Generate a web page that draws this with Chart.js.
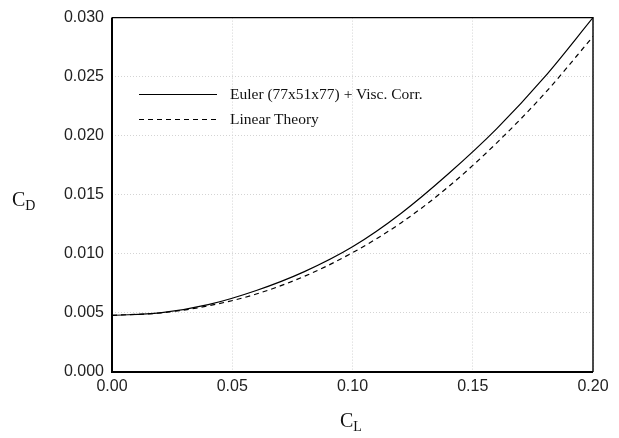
<!DOCTYPE html>
<html>
<head>
<meta charset="utf-8">
<script src="https://cdn.jsdelivr.net/npm/chart.js@4.4.1/dist/chart.umd.min.js"></script>
<style>
  html, body { margin: 0; padding: 0; background: #fff; }
  #wrap { position: relative; width: 619px; height: 438px; }
  .axis-title { position: absolute; font-family: "Liberation Serif", "Times New Roman", serif; font-size: 20px; line-height: 1; color: #111; white-space: nowrap; }
  .axis-title sub { font-size: 14px; vertical-align: -4px; line-height: 1; }
  .leg-row { position: absolute; left: 139px; height: 20px; display: flex; align-items: center; font-family: "Liberation Serif", "Times New Roman", serif; font-size: 15.5px; color: #111; white-space: nowrap; }
  .leg-row svg { display: block; margin-right: 13px; }
</style>
</head>
<body>
<div id="wrap">
  <canvas id="chartCD"></canvas>
  <div class="axis-title" style="left:12px; top:189px;">C<sub>D</sub></div>
  <div class="axis-title" id="titleX" style="left:340px; top:410px;">C<sub>L</sub></div>
  <div id="legend"></div>
</div>
<script>
// datos
const cl = [0, 0.02, 0.04, 0.06, 0.08, 0.10, 0.12, 0.14, 0.16, 0.18, 0.20];
const cdEuler = [0.0048, 0.0050, 0.0057, 0.0069, 0.0085, 0.0106, 0.0134, 0.0168, 0.0206, 0.0250, 0.0300];
const cdLinear = [0.0048, 0.0050, 0.0056, 0.0066, 0.0081, 0.0101, 0.0126, 0.0157, 0.0194, 0.0236, 0.0284];
const seriesNames = ['Euler (77x51x77) + Visc. Corr.', 'Linear Theory'];

const xTickValues = [0, 0.05, 0.10, 0.15, 0.20];
const xTickLabels = ['0.00', '0.05', '0.10', '0.15', '0.20'];
const yTickValues = [0, 0.005, 0.010, 0.015, 0.020, 0.025, 0.030];
const yTickLabels = ['0.000', '0.005', '0.010', '0.015', '0.020', '0.025', '0.030'];

const toPoints = ys => cl.map((x, i) => ({ x: x, y: ys[i] }));

// marco: arriba y derecha mas finos
const framePlugin = {
  id: 'frame',
  afterDraw(chart) {
    const { ctx, chartArea: a } = chart;
    ctx.save();
    ctx.strokeStyle = '#000';
    ctx.lineWidth = 1.4;
    ctx.beginPath();
    ctx.moveTo(a.left, a.top);
    ctx.lineTo(a.right, a.top);
    ctx.lineTo(a.right, a.bottom);
    ctx.stroke();
    ctx.lineWidth = 2;
    ctx.beginPath();
    ctx.moveTo(a.left, a.top);
    ctx.lineTo(a.left, a.bottom);
    ctx.lineTo(a.right, a.bottom);
    ctx.stroke();
    ctx.restore();
  }
};

const tickFont = { family: '"Liberation Sans", Arial, sans-serif', size: 16 };

const chart = new Chart(document.getElementById('chartCD'), {
  type: 'line',
  data: {
    datasets: [
      { label: seriesNames[0], data: toPoints(cdEuler), borderColor: '#000', borderWidth: 1.2, pointRadius: 0, cubicInterpolationMode: 'monotone', fill: false },
      { label: seriesNames[1], data: toPoints(cdLinear), borderColor: '#000', borderWidth: 1.2, borderDash: [5, 4], pointRadius: 0, cubicInterpolationMode: 'monotone', fill: false }
    ]
  },
  options: {
    responsive: true,
    maintainAspectRatio: false,
    animation: false,
    layout: { padding: { top: 13, right: 26, left: 0, bottom: 0 } },
    plugins: { legend: { display: false }, tooltip: { enabled: false } },
    scales: {
      x: {
        type: 'linear', min: 0, max: 0.2,
        afterBuildTicks: s => { s.ticks = xTickValues.map(v => ({ value: v })); },
        afterFit: s => { s.height = 66; },
        ticks: { font: tickFont, color: '#222', padding: 5, maxRotation: 0, callback: (v, i) => xTickLabels[i] },
        grid: { color: '#d4d4d4', lineWidth: 1, drawTicks: false },
        border: { display: false, dash: [1, 2] }
      },
      y: {
        type: 'linear', min: 0, max: 0.03,
        afterBuildTicks: s => { s.ticks = yTickValues.map(v => ({ value: v })); },
        afterFit: s => { s.width = 112; },
        ticks: { font: tickFont, color: '#222', padding: 8, callback: (v, i) => yTickLabels[i] },
        grid: { color: '#d4d4d4', lineWidth: 1, drawTicks: false },
        border: { display: false, dash: [1, 2] }
      }
    }
  },
  plugins: [framePlugin]
});

// leyenda en HTML
const legendEl = document.getElementById('legend');
const legendY = [94, 119];
chart.data.datasets.forEach((ds, i) => {
  const row = document.createElement('div');
  row.className = 'leg-row';
  row.style.top = (legendY[i] - 10) + 'px';
  const dash = ds.borderDash ? ds.borderDash.join(',') : 'none';
  row.innerHTML = '<svg width="78" height="20"><line x1="0" y1="10.5" x2="78" y2="10.5" stroke="#000" stroke-width="1.2" stroke-dasharray="' + dash + '"/></svg>';
  const txt = document.createElement('span');
  txt.textContent = ds.label;
  row.appendChild(txt);
  legendEl.appendChild(row);
});
</script>
</body>
</html>
